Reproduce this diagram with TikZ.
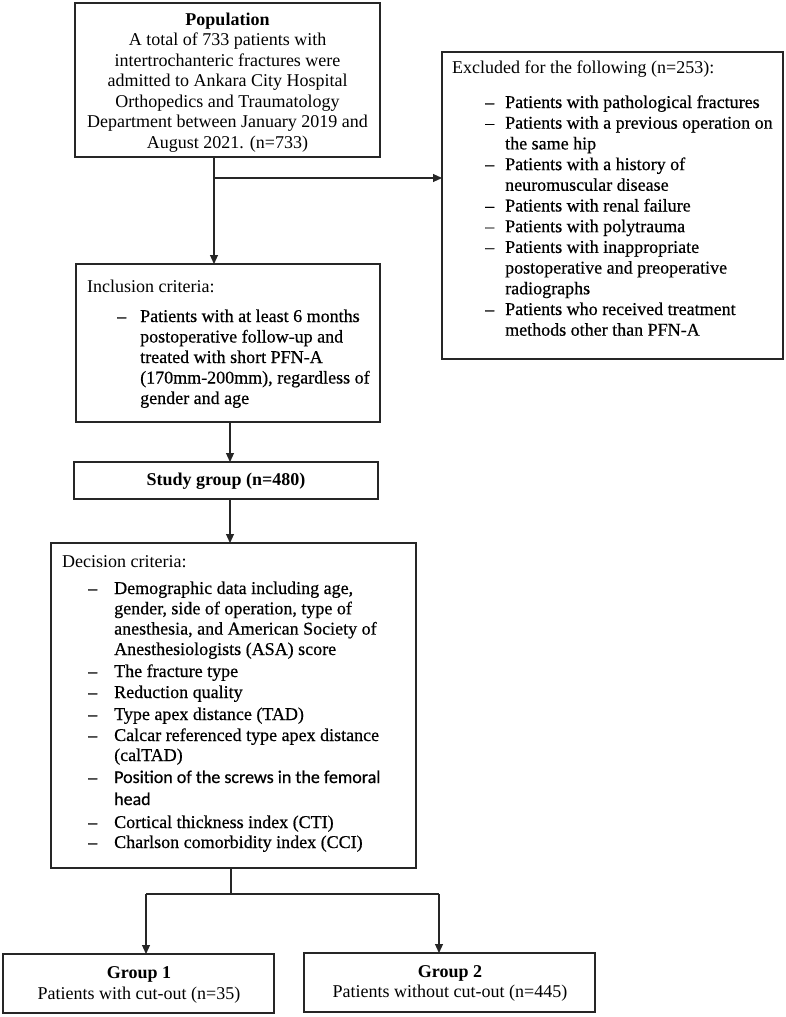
\documentclass[tikz,border=0pt]{standalone}
\usepackage{fontspec}
\setmainfont{Liberation Serif}
\newfontfamily\heavy[FakeBold=0.5,Ligatures=TeX]{Liberation Serif}
\newfontfamily\calib[FakeBold=0.5,Ligatures=TeX]{Carlito}
\usetikzlibrary{arrows.meta}
\begin{document}
\begin{tikzpicture}[x=1pt,y=-1pt,
  box/.style={draw=black!85, line width=1.1pt, inner sep=0pt, outer sep=0pt, rectangle},
  arr/.style={draw=black!85, line width=1.1pt, -{Triangle[length=9pt,width=8pt]}},
  lin/.style={draw=black!85, line width=1.1pt},
  tl/.style={anchor=base west, inner sep=0pt, font=\fontsize{18}{20.7}\selectfont},
  tc/.style={anchor=base, inner sep=0pt, font=\fontsize{18}{20.7}\selectfont},
  it/.style={tl, font=\fontsize{18}{20.7}\heavy}]
\useasboundingbox (0,0) rectangle (786,1017);
\fill[white] (0,0) rectangle (786,1017);

% boxes
\node[box, minimum width=305pt, minimum height=154pt] (pop) at (227.5,80) {};
\node[box, minimum width=341pt, minimum height=307pt] (excl) at (612.5,205.5) {};
\node[box, minimum width=304pt, minimum height=158pt] (incl) at (228,343) {};
\node[box, minimum width=304pt, minimum height=37pt] (study) at (226,480.5) {};
\node[box, minimum width=365pt, minimum height=325pt] (dec) at (233.5,705.5) {};
\node[box, minimum width=271pt, minimum height=59pt] (g1) at (138.5,983.5) {};
\node[box, minimum width=291pt, minimum height=59pt] (g2) at (449.5,982.5) {};

% population text
\node[tc] (p1) at (227.5,25) {\textbf{Population}};
\node[tc] (p2) at (227.5,45.5) {A total of 733 patients with};
\node[tc] (p3) at (227.5,66) {intertrochanteric fractures were};
\node[tc] (p4) at (227.5,86.5) {admitted to Ankara City Hospital};
\node[tc] (p5) at (227.5,107) {Orthopedics and Traumatology};
\node[tc] (p6) at (227.5,127.5) {Department between January 2019 and};
\node[tc] (p7) at (227.5,148) {August 2021. (n=733)};

% excluded text
\node[tl] (e0) at (452,73) {Excluded for the following (n=253):};
\node[it] (ed1) at (485,108) {–};
\node[it] (e1) at (505,108) {Patients with pathological fractures};
\node[it] (ed2) at (485,128.7) {–};
\node[it] (e2) at (505,128.7) {Patients with a previous operation on};
\node[it] (e3) at (505,149.4) {the same hip};
\node[it] (ed4) at (485,170.1) {–};
\node[it] (e4) at (505,170.1) {Patients with a history of};
\node[it] (e5) at (505,190.8) {neuromuscular disease};
\node[it] (ed6) at (485,211.5) {–};
\node[it] (e6) at (505,211.5) {Patients with renal failure};
\node[it] (ed7) at (485,232.2) {–};
\node[it] (e7) at (505,232.2) {Patients with polytrauma};
\node[it] (ed8) at (485,252.9) {–};
\node[it] (e8) at (505,252.9) {Patients with inappropriate};
\node[it] (e9) at (505,273.6) {postoperative and preoperative};
\node[it] (e10) at (505,294.3) {radiographs};
\node[it] (ed11) at (485,315) {–};
\node[it] (e11) at (505,315) {Patients who received treatment};
\node[it] (e12) at (505,335.7) {methods other than PFN-A};

% inclusion text
\node[tl] (i0) at (87,292) {Inclusion criteria:};
\node[it] (id1) at (117,322) {–};
\node[it] (i1) at (140,322) {Patients with at least 6 months};
\node[it] (i2) at (140,342.5) {postoperative follow-up and};
\node[it] (i3) at (140,363) {treated with short PFN-A};
\node[it] (i4) at (140,383.5) {(170mm-200mm), regardless of};
\node[it] (i5) at (140,404) {gender and age};

% study group
\node[tc] (s1) at (226,485) {\textbf{Study group (n=480)}};

% decision text
\node[tl] (d0) at (62,567) {Decision criteria:};
\node[it] (dd1) at (88,594) {–};
\node[it] (d1) at (114,594) {Demographic data including age,};
\node[it] (d2) at (114,614.3) {gender, side of operation, type of};
\node[it] (d3) at (114,634.6) {anesthesia, and American Society of};
\node[it] (d4) at (114,655) {Anesthesiologists (ASA) score};
\node[it] (dd5) at (88,677) {–};
\node[it] (d5) at (114,677) {The fracture type};
\node[it] (dd6) at (88,698) {–};
\node[it] (d6) at (114,698) {Reduction quality};
\node[it] (dd7) at (88,720) {–};
\node[it] (d7) at (114,720) {Type apex distance (TAD)};
\node[it] (dd8) at (88,741) {–};
\node[it] (d8) at (114,741) {Calcar referenced type apex distance};
\node[it] (d9) at (114,761) {(calTAD)};
\node[it] (dd10) at (88,783) {–};
\node[it] (d10) at (114,783) {\calib Position of the screws in the femoral};
\node[it] (d11) at (114,805) {\calib head};
\node[it] (dd12) at (88,828) {–};
\node[it] (d12) at (114,828) {Cortical thickness index (CTI)};
\node[it] (dd13) at (88,848) {–};
\node[it] (d13) at (114,848) {Charlson comorbidity index (CCI)};

% groups text
\node[tc] (ga1) at (139,978) {\textbf{Group 1}};
\node[tc] (ga2) at (139,999) {Patients with cut-out (n=35)};
\node[tc] (gb1) at (450,977) {\textbf{Group 2}};
\node[tc] (gb2) at (450,997) {Patients without cut-out (n=445)};

% connectors
\coordinate (popout) at ([xshift=-13.5pt]pop.south);
\draw[arr] (popout) -- (popout |- incl.north);
\coordinate (br) at (214,178);
\draw[arr] (br) -- (br -| excl.west);
\coordinate (inout) at ([xshift=2pt]incl.south);
\draw[arr] (inout) -- (inout |- study.north);
\coordinate (stout) at ([xshift=4pt]study.south);
\draw[arr] (stout) -- (stout |- dec.north);
\coordinate (split) at (231,894);
\coordinate (sl) at (146,894);
\coordinate (sr) at (439,894);
\draw[lin] (split |- dec.south) -- (split);
\draw[lin] (sl) -- (sr);
\draw[arr] (sl) -- (sl |- g1.north);
\draw[arr] (sr) -- (sr |- g2.north);
\end{tikzpicture}
\end{document}
